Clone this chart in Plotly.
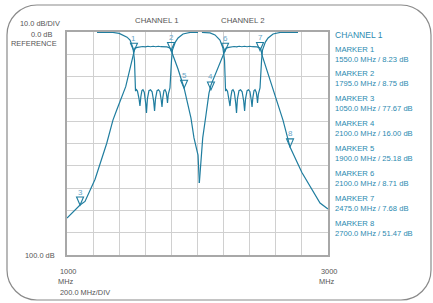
import plotly.graph_objects as go

# ---------------- data (MHz, dB loss) ----------------
ch1_s21_f = [1000, 1061, 1100, 1138, 1215, 1304, 1352, 1381, 1450, 1513, 1521, 1540, 1559, 1580,
             1600, 1620, 1640, 1660, 1680, 1700, 1720, 1740, 1766, 1789, 1797, 1850, 1897, 1950,
             1973, 2004, 2014]
ch1_s21_db = [83.4, 80.0, 77.6, 76.0, 66.0, 50.0, 39.5, 35.0, 24.5, 9.0, 7.2, 6.9, 6.7, 6.5,
              6.7, 6.4, 6.6, 6.4, 6.6, 6.4, 6.6, 6.5, 6.7, 7.2, 8.1, 16.5, 25.1, 38.6,
              47.5, 55.2, 67.7]

ch2_s21_f = [2014, 2040, 2065, 2088, 2103, 2150, 2193, 2211, 2219, 2240, 2260, 2280, 2300, 2320,
             2340, 2360, 2380, 2400, 2420, 2440, 2456, 2479, 2487, 2494, 2570, 2655, 2709, 2800,
             2939, 3000]
ch2_s21_db = [67.7, 47.5, 37.2, 27.4, 23.8, 17.0, 10.3, 8.1, 7.2, 6.9, 6.7, 6.5, 6.7, 6.4,
              6.6, 6.4, 6.6, 6.4, 6.6, 6.5, 6.7, 7.2, 8.1, 10.3, 24.0, 39.5, 51.6, 63.0,
              76.7, 79.4]

ch1_s11_f = [1230, 1352, 1400, 1429, 1460, 1483, 1506, 1517, 1525, 1532, 1540, 1552, 1559, 1566,
             1574, 1582, 1592, 1603, 1609, 1616, 1628, 1640, 1652, 1664, 1671, 1678, 1690, 1701,
             1712, 1722, 1728, 1734, 1743, 1751, 1760, 1766, 1770, 1776, 1785, 1789, 1801, 1808,
             1830, 1851, 1889, 1943, 2004]
ch1_s11_db = [0.2, 0.2, 0.6, 1.3, 2.3, 3.6, 7.2, 12.6, 26.5, 25.8, 26.5, 30.0, 33.2, 29.0,
              26.3, 25.9, 27.0, 32.0, 36.3, 30.0, 26.3, 25.9, 26.8, 31.0, 35.4, 30.0, 26.3, 25.9,
              26.8, 30.5, 33.6, 29.5, 26.3, 25.9, 27.0, 29.5, 31.8, 28.0, 25.5, 25.1, 12.6, 8.1,
              4.5, 2.7, 0.9, 0.2, 0.2]

ch2_s11_f = [2034, 2096, 2134, 2160, 2172, 2195, 2207, 2215, 2222, 2230, 2242, 2249, 2256,
             2264, 2272, 2282, 2293, 2299, 2306, 2318, 2330, 2342, 2354, 2361, 2368, 2380, 2391,
             2402, 2412, 2418, 2424, 2433, 2441, 2450, 2456, 2460, 2466, 2475, 2479, 2491, 2498,
             2520, 2541, 2579, 2633, 2770]
ch2_s11_db = [0.2, 0.4, 1.3, 2.6, 3.6, 7.2, 12.6, 26.5, 25.8, 26.5, 30.0, 33.2, 29.0,
              26.3, 25.9, 27.0, 32.0, 36.3, 30.0, 26.3, 25.9, 26.8, 31.0, 35.4, 30.0, 26.3, 25.9,
              26.8, 30.5, 33.6, 29.5, 26.3, 25.9, 27.0, 29.5, 31.8, 28.0, 25.5, 25.1, 12.6, 8.1,
              4.5, 2.7, 0.9, 0.2, 0.2]

marker_ids = ["1", "2", "3", "4", "5", "6", "7", "8"]
marker_f = [1513, 1797, 1100, 2103, 1897, 2211, 2479, 2709]
marker_db = [8.6, 8.3, 77.6, 26.0, 25.2, 8.6, 8.3, 51.5]

legend_title = "CHANNEL 1"
legend_names = ["MARKER 1", "MARKER 2", "MARKER 3", "MARKER 4",
                "MARKER 5", "MARKER 6", "MARKER 7", "MARKER 8"]
legend_values = ["1550.0 MHz / 8.23 dB", "1795.0 MHz / 8.75 dB", "1050.0 MHz / 77.67 dB",
                 "2100.0 MHz / 16.00 dB", "1900.0 MHz / 25.18 dB", "2100.0 MHz / 8.71 dB",
                 "2475.0 MHz / 7.68 dB", "2700.0 MHz / 51.47 dB"]

# ---------------- layout geometry ----------------
WIDTH, HEIGHT = 433, 303
L, R, T, B = 67, 328, 32, 255
PW, PH = R - L, B - T

def px(x):
    return (x - L) / PW

def py(y):
    return (B - y) / PH

TRACE = "#1f7d9f"
LABEL = "#6aa6c8"
TEXT = "#555555"
LEG = "#2b8ab0"
FONT = "Liberation Sans, Arial, sans-serif"

fig = go.Figure()
for f, d in [(ch1_s21_f, ch1_s21_db), (ch2_s21_f, ch2_s21_db),
             (ch1_s11_f, ch1_s11_db), (ch2_s11_f, ch2_s11_db)]:
    fig.add_trace(go.Scatter(x=f, y=d, mode="lines", line=dict(color=TRACE, width=1.2),
                             hoverinfo="skip", showlegend=False))

shapes = []
# outer rounded frame
x0, x1, y0, y1, r = 7, 431, 5, 300, 30
k = 0.552 * r
def P(x, y):
    return f"{px(x):.5f},{py(y):.5f}"
path = (f"M{P(x0 + r, y0)} L{P(x1 - r, y0)} C{P(x1 - r + k, y0)} {P(x1, y0 + r - k)} {P(x1, y0 + r)} "
        f"L{P(x1, y1 - r)} C{P(x1, y1 - r + k)} {P(x1 - r + k, y1)} {P(x1 - r, y1)} "
        f"L{P(x0 + r, y1)} C{P(x0 + r - k, y1)} {P(x0, y1 - r + k)} {P(x0, y1 - r)} "
        f"L{P(x0, y0 + r)} C{P(x0, y0 + r - k)} {P(x0 + r - k, y0)} {P(x0 + r, y0)} Z")
shapes.append(dict(type="path", xref="paper", yref="paper", path=path,
                   line=dict(color="#8a8a8a", width=1.2), layer="below"))

annotations = []
# marker triangles and labels
for mid, f, d in zip(marker_ids, marker_f, marker_db):
    shapes.append(dict(type="path", xref="x", yref="y", xsizemode="pixel", ysizemode="pixel",
                       xanchor=f, yanchor=d, path="M-3.5,8 L3.5,8 L0,0 Z",
                       line=dict(color=TRACE, width=1.1)))
    annotations.append(dict(x=f, y=d, xref="x", yref="y", text=mid, showarrow=False,
                            yshift=13, font=dict(family=FONT, size=8, color=LABEL)))

def txt(x, y, s, size=7.4, color=TEXT, xanchor="left"):
    annotations.append(dict(x=px(x), y=py(y), xref="paper", yref="paper", text=s,
                            showarrow=False, xanchor=xanchor, yanchor="middle",
                            font=dict(family=FONT, size=size, color=color)))

txt(40, 23, "10.0 dB/DIV", xanchor="center")
txt(54, 34, "0.0 dB", xanchor="right")
txt(59, 43, "REFERENCE", xanchor="right")
txt(57, 255, "100.0 dB", xanchor="right")
txt(156.5, 20, "CHANNEL 1", size=7.8, xanchor="center")
txt(242, 20, "CHANNEL 2", size=7.8, xanchor="center")
txt(67.5, 271, "1000", xanchor="center")
txt(65, 281, "MHz", xanchor="center")
txt(58, 292, "200.0 MHz/DIV")
txt(329, 271, "3000", xanchor="center")
txt(326.5, 281, "MHz", xanchor="center")

txt(333, 35, legend_title, size=8.5, color=LEG)
for i, (n, v) in enumerate(zip(legend_names, legend_values)):
    yy = 49 + 24.9 * i
    txt(333, yy, n, size=7.7, color=LEG)
    txt(333, yy + 10, v, size=7.6, color=LEG)

axis_common = dict(showgrid=True, gridcolor="#d0d0d0", gridwidth=1, showline=True,
                   linecolor="#a8a8a8", linewidth=1.5, mirror=True, ticks="",
                   showticklabels=False, zeroline=False, fixedrange=True)
fig.update_layout(
    width=WIDTH, height=HEIGHT, margin=dict(l=L, r=WIDTH - R, t=T, b=HEIGHT - B),
    paper_bgcolor="white", plot_bgcolor="white",
    xaxis=dict(range=[1000, 3000], dtick=200, tick0=1000, **axis_common),
    yaxis=dict(range=[100, 0], dtick=10, tick0=0, **axis_common),
    shapes=shapes, annotations=annotations, showlegend=False,
)
fig.write_html("out.html", config={"displayModeBar": False},
               post_script="document.body.style.margin='0';document.body.style.overflow='hidden';")
